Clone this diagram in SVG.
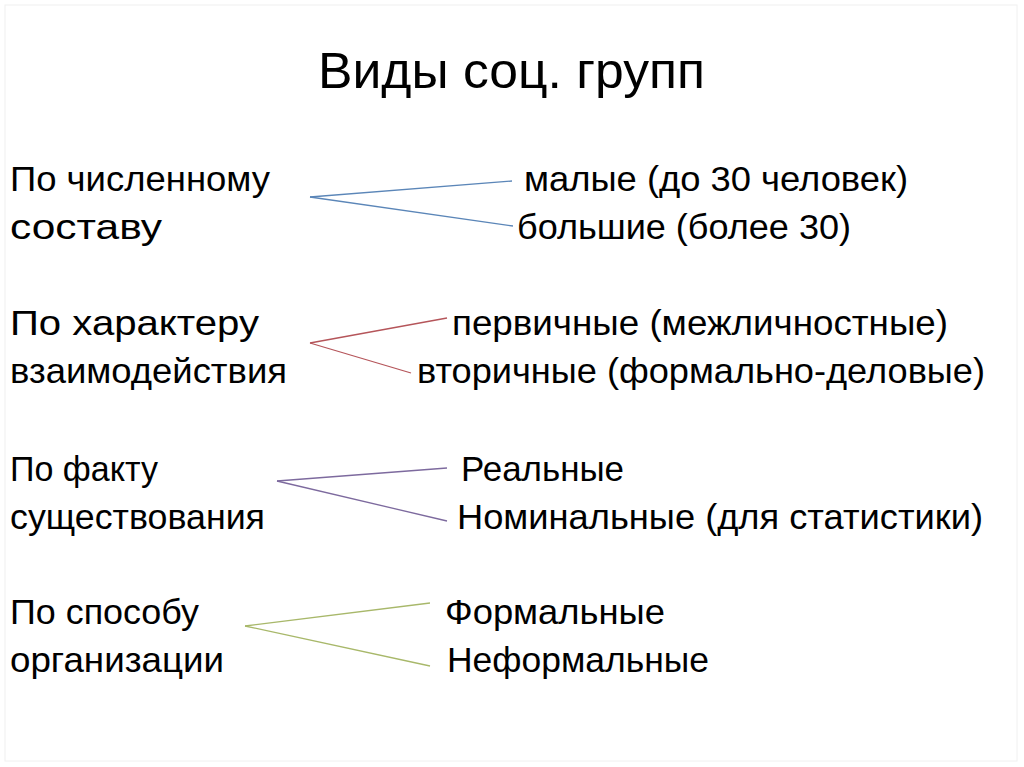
<svg xmlns="http://www.w3.org/2000/svg" width="1024" height="767" viewBox="0 0 1024 767">
<style>
text{font-family:"Liberation Sans",Arial,sans-serif;fill:#000}
.b{font-size:35px}
.t{font-size:50px}
.c line{stroke-width:1.3;fill:none}
</style>
<rect x="0" y="0" width="1024" height="767" fill="#fff"/>
<rect x="5" y="5" width="1012" height="756" fill="none" stroke="#f0f0f0" stroke-width="1"/>
<g id="title"><text class="t" x="318" y="88" textLength="387" lengthAdjust="spacingAndGlyphs">Виды соц. групп</text></g>
<g id="g1">
<text class="b" x="10" y="191" textLength="260" lengthAdjust="spacingAndGlyphs">По численному</text>
<text class="b" x="10" y="239" textLength="152" lengthAdjust="spacingAndGlyphs">составу</text>
</g>
<g id="g1a"><text class="b" x="524" y="191" textLength="384" lengthAdjust="spacingAndGlyphs">малые (до 30 человек)</text></g>
<g id="g1b"><text class="b" x="517" y="239" textLength="334" lengthAdjust="spacingAndGlyphs">большие (более 30)</text></g>
<g id="g2">
<text class="b" x="10" y="335" textLength="249" lengthAdjust="spacingAndGlyphs">По характеру</text>
<text class="b" x="10" y="383" textLength="277" lengthAdjust="spacingAndGlyphs">взаимодействия</text>
</g>
<g id="g2a"><text class="b" x="452" y="335" textLength="496" lengthAdjust="spacingAndGlyphs">первичные (межличностные)</text></g>
<g id="g2b"><text class="b" x="417" y="383" textLength="568" lengthAdjust="spacingAndGlyphs">вторичные (формально-деловые)</text></g>
<g id="g3">
<text class="b" x="10" y="481" textLength="148" lengthAdjust="spacingAndGlyphs">По факту</text>
<text class="b" x="10" y="529" textLength="255" lengthAdjust="spacingAndGlyphs">существования</text>
</g>
<g id="g3a"><text class="b" x="461" y="481" textLength="163" lengthAdjust="spacingAndGlyphs">Реальные</text></g>
<g id="g3b"><text class="b" x="457" y="529" textLength="526" lengthAdjust="spacingAndGlyphs">Номинальные (для статистики)</text></g>
<g id="g4">
<text class="b" x="10" y="624" textLength="189" lengthAdjust="spacingAndGlyphs">По способу</text>
<text class="b" x="10" y="672" textLength="214" lengthAdjust="spacingAndGlyphs">организации</text>
</g>
<g id="g4a"><text class="b" x="445" y="624" textLength="220" lengthAdjust="spacingAndGlyphs">Формальные</text></g>
<g id="g4b"><text class="b" x="447" y="672" textLength="262" lengthAdjust="spacingAndGlyphs">Неформальные</text></g>
<g id="connectors" class="c">
<line x1="310" y1="197" x2="512" y2="181" stroke="#5b86b8"/>
<line x1="310" y1="197" x2="513" y2="226" stroke="#5b86b8"/>
<line x1="310" y1="343" x2="447" y2="318" stroke="#b5555a"/>
<line x1="310" y1="343" x2="411" y2="373" stroke="#b5555a"/>
<line x1="277" y1="481" x2="447" y2="468" stroke="#7d6a9e"/>
<line x1="277" y1="481" x2="447" y2="521" stroke="#7d6a9e"/>
<line x1="245" y1="626" x2="430" y2="603" stroke="#a8b86a"/>
<line x1="245" y1="626" x2="430" y2="666" stroke="#a8b86a"/>
</g>
</svg>
